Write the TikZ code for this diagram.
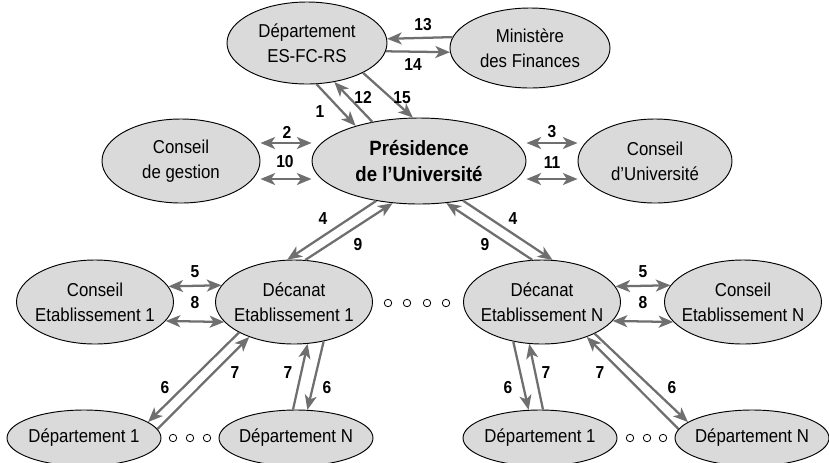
\documentclass[tikz,border=0pt]{standalone}
\usepackage{fontspec}
\setmainfont{Liberation Sans}[FakeStretch=0.9]
\usepackage{tikz}
\usetikzlibrary{shapes.geometric}
\usetikzlibrary{arrows.meta}
\definecolor{fond}{HTML}{DADADA}
\definecolor{trait}{HTML}{6F6F6F}
\tikzset{
  bulle/.style 2 args={ellipse, draw=black, fill=fond, line width=0.7pt, inner sep=0pt,
    minimum width=#1, minimum height=#2},
  txt/.style={align=center, inner sep=0pt, font=\fontsize{14}{18.75}\selectfont},
  txtgras/.style={align=center, inner sep=0pt, font=\bfseries\fontsize{15.5}{20}\selectfont},
  num/.style={inner sep=0pt, font=\bfseries\fontsize{13}{14}\selectfont},
  fleche/.style={draw=trait, line width=1.7pt, -{Stealth[length=11pt,width=9pt,inset=3pt]}},
  dfleche/.style={draw=trait, line width=1.7pt,
    {Stealth[length=11pt,width=9pt,inset=3pt]}-{Stealth[length=11pt,width=9pt,inset=3pt]}},
  anneau/.style={draw=black, line width=0.6pt, fill=white}
}
\begin{document}
\begin{tikzpicture}[x=0.75pt, y=-0.75pt]
	\useasboundingbox (0,0) rectangle (829,462);
	% haut
	\node[bulle={120pt}{61.5pt}, label={[txt]center:Département\\ES-FC-RS}] (dep) at (307,43) {};
	\node[bulle={120pt}{60pt}, label={[txt]center:Ministère\\des Finances}] (minf) at (530,48) {};
	% présidence et conseils
	\node[bulle={160.5pt}{64.5pt}, label={[txtgras]center:Présidence\\de l’Université}] (pres) at (419,161) {};
	\node[bulle={118.5pt}{63pt}, label={[txt]center:Conseil\\de gestion}] (cg) at (181,161) {};
	\node[bulle={115.5pt}{63pt}, label={[txt]center:Conseil\\d’Université}] (cu) at (655,161) {};
	% établissements
	\node[bulle={117.75pt}{63pt}, label={[txt]center:Conseil\\Etablissement 1}] (ce1) at (95,302) {};
	\node[bulle={117.75pt}{63pt}, label={[txt]center:Décanat\\Etablissement 1}] (dec1) at (294,302) {};
	\node[bulle={117.75pt}{63pt}, label={[txt]center:Décanat\\Etablissement N}] (decN) at (542,302) {};
	\node[bulle={117.75pt}{63pt}, label={[txt]center:Conseil\\Etablissement N}] (ceN) at (743,302) {};
	% départements
	\node[bulle={115.5pt}{42pt}, label={[txt]center:Département 1}] (d11) at (84,438) {};
	\node[bulle={115.5pt}{42pt}, label={[txt]center:Département N}] (d1N) at (296,438) {};
	\node[bulle={115.5pt}{42pt}, label={[txt]center:Département 1}] (dN1) at (540,438) {};
	\node[bulle={115.5pt}{42pt}, label={[txt]center:Département N}] (dNN) at (752,438) {};
	% points de suspension
	\foreach \x in {388,407,427,446} \draw[anneau] (\x,303) circle (2.8pt);
	\foreach \x in {173,190,207,630,647,663} \draw[anneau] (\x,438) circle (2.8pt);
	% flux du haut
	\draw[fleche] (minf.172.7) -- (dep.3.6);
	\draw[fleche] (dep.-6.6) -- (minf.-177.1);
	\draw[fleche] (dep.-77.2) -- (pres.151.3);
	\draw[fleche] (pres.140.4) -- (dep.-55.4);
	\draw[fleche] (dep.-28.1) -- (pres.98);
	% conseils
	\draw[dfleche] ([yshift=13.5pt]cg.east) -- ([yshift=13.5pt]pres.west);
	\draw[dfleche] ([yshift=-13.5pt]cg.east) -- ([yshift=-13.5pt]pres.west);
	\draw[dfleche] ([yshift=13.5pt]pres.east) -- ([yshift=13.5pt]cu.west);
	\draw[dfleche] ([yshift=-13.5pt]pres.east) -- ([yshift=-13.5pt]cu.west);
	% présidence - décanats
	\draw[fleche] (pres.-137.7) -- (dec1.99.2);
	\draw[fleche] (dec1.75.3) -- (pres.-122.5);
	\draw[fleche] (pres.-42.3) -- (decN.76.6);
	\draw[fleche] (decN.103.4) -- (pres.-57.5);
	% conseils d'établissement
	\draw[dfleche] (ce1.12.4) -- (dec1.167.6);
	\draw[dfleche] (ce1.-15.2) -- (dec1.-164.8);
	\draw[dfleche] (decN.12.4) -- (ceN.167.6);
	\draw[dfleche] (decN.-15.2) -- (ceN.-164.8);
	% décanats - départements
	\draw[fleche] (dec1.-151.5) -- (d11.14);
	\draw[fleche] (d11.7.7) -- (dec1.-142.7);
	\draw[fleche] (d1N.96.1) -- (dec1.-72);
	\draw[fleche] (dec1.-53.8) -- (d1N.68.6);
	\draw[fleche] (decN.-126.2) -- (dN1.112.5);
	\draw[fleche] (dN1.84.1) -- (decN.-107.3);
	\draw[fleche] (decN.-31) -- (dNN.166.6);
	\draw[fleche] (dNN.173.2) -- (decN.-38.4);
	% numéros
	\node[num] (n13) at (423,25) {13};
	\node[num] (n14) at (413,65) {14};
	\node[num] (n1) at (320,112) {1};
	\node[num] (n12) at (363,97) {12};
	\node[num] (n15) at (402,98) {15};
	\node[num] (n2) at (287,132) {2};
	\node[num] (n10) at (285,162) {10};
	\node[num] (n3) at (552,132) {3};
	\node[num] (n11) at (552,163) {11};
	\node[num] (n4g) at (323,219) {4};
	\node[num] (n9g) at (358,245) {9};
	\node[num] (n4d) at (513,219) {4};
	\node[num] (n9d) at (485,245) {9};
	\node[num] (n5g) at (195,272) {5};
	\node[num] (n8g) at (195,303) {8};
	\node[num] (n5d) at (643,272) {5};
	\node[num] (n8d) at (643,303) {8};
	\node[num] (n6a) at (165,388) {6};
	\node[num] (n7a) at (235,373) {7};
	\node[num] (n7b) at (288,373) {7};
	\node[num] (n6b) at (327,388) {6};
	\node[num] (n6c) at (508,388) {6};
	\node[num] (n7c) at (546,373) {7};
	\node[num] (n7d) at (600,373) {7};
	\node[num] (n6d) at (672,388) {6};
\end{tikzpicture}
\end{document}
